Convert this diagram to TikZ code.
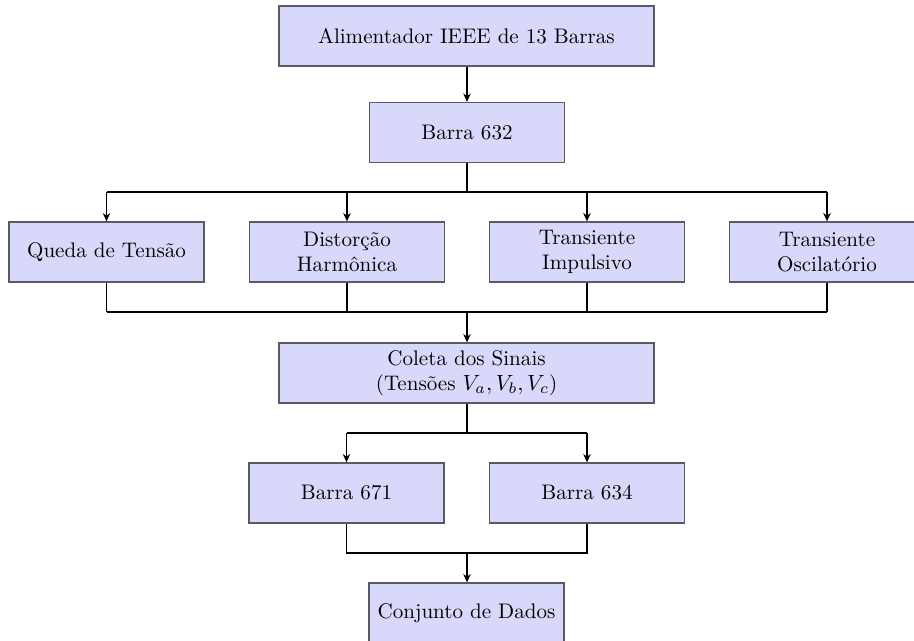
\documentclass[tikz,border=0pt]{standalone}
\usetikzlibrary{arrows.meta}
\definecolor{boxfill}{RGB}{216,216,250}
\definecolor{boxline}{RGB}{90,90,100}
\begin{document}
\begin{tikzpicture}[x=0.016cm, y=-0.016cm,
  box/.style={draw=boxline, fill=boxfill, line width=0.6pt, align=center,
    minimum height=0.96cm, inner sep=2pt,
    font=\fontsize{9.6pt}{11.6pt}\selectfont},
  wide/.style={box, minimum width=6cm},
  narrow/.style={box, minimum width=3.12cm},
  link/.style={draw=black, line width=0.65pt},
  arr/.style={link, -{Stealth[length=3.8pt,width=3.4pt]}}]
\useasboundingbox (0,0) rectangle (914,640);

% main chain
\node[wide]   (feeder) at (466.5,36)  {Alimentador IEEE de 13 Barras};
\node[narrow] (b632)   at (467,132.5) {Barra 632};

% disturbance types
\node[narrow] (queda) at (106.5,252) {Queda de Tensão};
\node[narrow] (dist)  at (347,252)   {Distorção\\Harmônica};
\node[narrow] (imp)   at (587,252)   {Transiente\\Impulsivo};
\node[narrow] (osc)   at (827,252)   {Transiente\\Oscilatório};

\node[wide]   (coleta) at (466.5,373) {Coleta dos Sinais\\(Tensões $V_a, V_b, V_c$)};

\node[narrow] (b671) at (346.5,493) {Barra 671};
\node[narrow] (b634) at (587,493)   {Barra 634};

\node[narrow] (conj) at (466.5,613) {Conjunto de Dados};

% bus coordinates
\coordinate (bus1) at (467,192);
\coordinate (bus2) at (467,312);
\coordinate (bus3) at (467,433);
\coordinate (bus4) at (467,553);

\draw[arr] (feeder.south -| b632.north) -- (b632.north);

\draw[link] (b632.south) -- (bus1);
\draw[link] (queda.north |- bus1) -- (osc.north |- bus1);
\foreach \n in {queda,dist,imp,osc}
  \draw[arr] (\n.north |- bus1) -- (\n.north);

\foreach \n in {queda,dist,imp,osc}
  \draw[link] (\n.south) -- (\n.south |- bus2);
\draw[link] (queda.south |- bus2) -- (osc.south |- bus2);
\draw[arr] (bus2) -- (coleta.north -| bus2);

\draw[link] (coleta.south -| bus3) -- (bus3);
\draw[link] (b671.north |- bus3) -- (b634.north |- bus3);
\draw[arr] (b671.north |- bus3) -- (b671.north);
\draw[arr] (b634.north |- bus3) -- (b634.north);

\draw[link] (b671.south) -- (b671.south |- bus4) -- (b634.south |- bus4) -- (b634.south);
\draw[arr] (bus4) -- (conj.north -| bus4);
\end{tikzpicture}
\end{document}
